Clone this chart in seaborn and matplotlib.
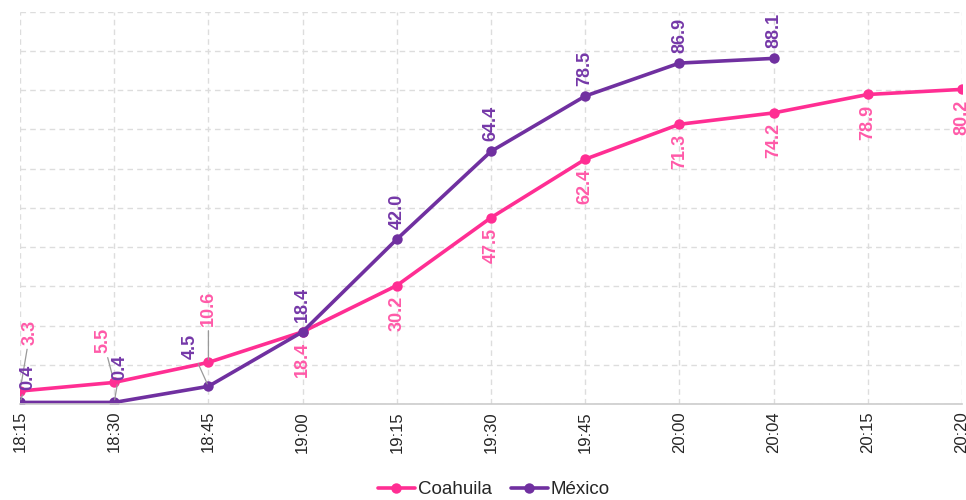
import pandas as pd
import numpy as np
import matplotlib
matplotlib.use("Agg")
import matplotlib.pyplot as plt
import seaborn as sns

horas = ["18:15", "18:30", "18:45", "19:00", "19:15", "19:30", "19:45",
         "20:00", "20:04", "20:15", "20:20"]
coahuila = [3.3, 5.5, 10.6, 18.4, 30.2, 47.5, 62.4, 71.3, 74.2, 78.9, 80.2]
mexico = [0.4, 0.4, 4.5, 18.4, 42.0, 64.4, 78.5, 86.9, 88.1]

rosa = "#ff2e93"
rosa_txt = "#ff5aa8"
morado = "#7030a0"
morado_txt = "#7538a8"

df = pd.concat([
    pd.DataFrame({"hora": horas, "pos": range(len(horas)), "valor": coahuila, "serie": "Coahuila"}),
    pd.DataFrame({"hora": horas[:len(mexico)], "pos": range(len(mexico)), "valor": mexico, "serie": "México"}),
])

sns.set_style("white")
plt.rcParams['font.family'] = ['Liberation Sans', 'DejaVu Sans']

fig = plt.figure(figsize=(9.66, 5.0), dpi=100)
ax = fig.add_axes([0.0207, 0.192, 0.9752, 0.7846])

sns.lineplot(data=df, x="pos", y="valor", hue="serie",
             palette={"Coahuila": rosa, "México": morado},
             marker="o", markersize=7.5, markeredgewidth=0, linewidth=2.6,
             ax=ax, legend=True)

ax.set_xlim(0, len(horas) - 1)
ax.set_ylim(0, 100)
ax.set_xticks(range(len(horas)))
ax.set_xticklabels(horas, rotation=90, fontsize=12)
ax.set_yticks(np.arange(0, 101, 10))
ax.set_yticklabels([])
ax.tick_params(axis="both", length=0)
ax.tick_params(axis="x", pad=5)
ax.set_xlabel("")
ax.set_ylabel("")
ax.grid(True, linestyle=(0, (4, 3)), color="#dddddd", linewidth=1)
ax.set_axisbelow(True)
for s in ["top", "right", "left"]:
    ax.spines[s].set_visible(False)
ax.spines["bottom"].set_color("#cccccc")
ax.spines["bottom"].set_linewidth(1.2)

# etiquetas con línea guía para los primeros puntos
guias = {("Coahuila", 0): (10, 59), ("México", 0): (8, 25),
         ("Coahuila", 1): (-11, 42), ("México", 1): (6, 35),
         ("México", 2): (-18, 40), ("Coahuila", 2): (0, 54)}

for nombre, vals, col in [("Coahuila", coahuila, rosa_txt), ("México", mexico, morado_txt)]:
    for i, v in enumerate(vals):
        txt = f"{v:.1f}"
        if (nombre, i) in guias:
            dx, dy = guias[(nombre, i)]
            ax.annotate(txt, (i, v), xytext=(dx, dy), textcoords="offset pixels",
                        rotation=90, ha="center", va="center", fontsize=13,
                        fontweight="bold", color=col,
                        arrowprops=dict(arrowstyle="-", color="#999999", lw=0.9,
                                        shrinkA=1, shrinkB=2))
        elif nombre == "Coahuila":
            ax.annotate(txt, (i, v), xytext=(0, -10), textcoords="offset pixels",
                        rotation=90, ha="center", va="top", fontsize=13,
                        fontweight="bold", color=col)
        else:
            ax.annotate(txt, (i, v), xytext=(0, 10), textcoords="offset pixels",
                        rotation=90, ha="center", va="bottom", fontsize=13,
                        fontweight="bold", color=col)

handles, labels = ax.get_legend_handles_labels()
ax.legend(handles, labels, loc="center", bbox_to_anchor=(0.503, -0.218),
          ncol=2, frameon=False, fontsize=13.5, handlelength=2.0,
          handletextpad=0.15, columnspacing=1.0)

plt.savefig("out.png", dpi=100)
